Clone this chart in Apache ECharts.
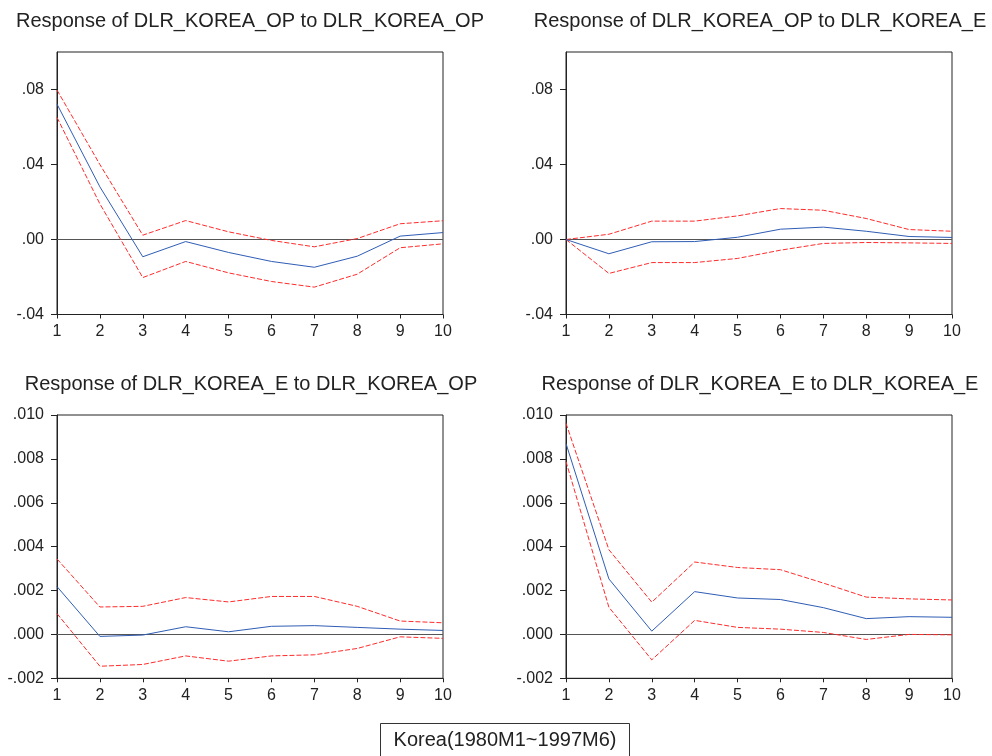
<!DOCTYPE html>
<html>
<head>
<meta charset="utf-8">
<script src="https://cdn.jsdelivr.net/npm/echarts@6/dist/echarts.min.js"></script>
<style>
html,body{margin:0;padding:0;background:#fff;}
#chart{width:992px;height:756px;}
</style>
</head>
<body>
<div id="chart"></div>
<script>
var steps = [1, 2, 3, 4, 5, 6, 7, 8, 9, 10];

var titles = [
  'Response of DLR_KOREA_OP to DLR_KOREA_OP',
  'Response of DLR_KOREA_OP to DLR_KOREA_E',
  'Response of DLR_KOREA_E to DLR_KOREA_OP',
  'Response of DLR_KOREA_E to DLR_KOREA_E'
];
var footnote = 'Korea(1980M1~1997M6)';

// OP -> OP
var opOpMid = [0.0722, 0.0281, -0.0092, -0.0011, -0.0069, -0.0117, -0.0148, -0.0089, 0.0018, 0.0037];
var opOpUp  = [0.0797, 0.0400, 0.0023, 0.0101, 0.0041, -0.0005, -0.0039, 0.0005, 0.0084, 0.0100];
var opOpLo  = [0.0651, 0.0190, -0.0203, -0.0117, -0.0178, -0.0224, -0.0254, -0.0185, -0.0044, -0.0023];

// OP <- E
var opEMid = [0, -0.0076, -0.0012, -0.0011, 0.0012, 0.0055, 0.0066, 0.0044, 0.0016, 0.0011];
var opEUp  = [0, 0.0028, 0.0098, 0.0098, 0.0126, 0.0165, 0.0156, 0.0112, 0.0053, 0.0044];
var opELo  = [0, -0.0181, -0.0123, -0.0123, -0.0101, -0.0057, -0.0021, -0.0016, -0.0018, -0.0021];

// E <- OP
var eOpMid = [0.00218, -0.00009, -0.00003, 0.00035, 0.00012, 0.00037, 0.00040, 0.00032, 0.00024, 0.00018];
var eOpUp  = [0.00344, 0.00125, 0.00128, 0.00168, 0.00148, 0.00173, 0.00173, 0.00128, 0.00061, 0.00053];
var eOpLo  = [0.00095, -0.00145, -0.00137, -0.00098, -0.00122, -0.00098, -0.00093, -0.00064, -0.00011, -0.00018];

// E <- E
var eEMid = [0.0087, 0.00253, 0.00015, 0.00195, 0.00166, 0.00159, 0.00122, 0.00072, 0.00081, 0.00078];
var eEUp  = [0.00962, 0.00386, 0.00147, 0.00330, 0.00305, 0.00295, 0.00234, 0.00170, 0.00162, 0.00157];
var eELo  = [0.00788, 0.00124, -0.00116, 0.00064, 0.00032, 0.00024, 0.00009, -0.00023, 0.00000, -0.00002];

var topAxis = { min: -0.04, max: 0.10, interval: 0.04, digits: 2 };
var botAxis = { min: -0.002, max: 0.010, interval: 0.002, digits: 3 };

var panels = [
  { mid: opOpMid, up: opOpUp, lo: opOpLo, ax: topAxis },
  { mid: opEMid, up: opEUp, lo: opELo, ax: topAxis },
  { mid: eOpMid, up: eOpUp, lo: eOpLo, ax: botAxis },
  { mid: eEMid, up: eEUp, lo: eELo, ax: botAxis }
];

var grids = [
  { left: 57, top: 52, width: 386, height: 262.5 },
  { left: 566, top: 52, width: 386, height: 262.5 },
  { left: 57, top: 415, width: 386, height: 263.3 },
  { left: 566, top: 415, width: 386, height: 263.3 }
];
var titlePos = [
  { x: 250, y: 21 },
  { x: 760, y: 21 },
  { x: 251, y: 384 },
  { x: 760, y: 384 }
];

var FONT = '"Liberation Sans", Arial, sans-serif';
var AXC = '#222';
var BLUE = '#2f5db5';
var RED = '#ff2b2b';

function pairs(arr) {
  return steps.map(function (s, i) { return [s, arr[i]]; });
}
function fmt(d) {
  return function (v) {
    var s = Number(v).toFixed(d);
    return s.replace(/^(-?)0\./, '$1.');
  };
}

var xAxes = [], yAxes = [], series = [], gridOpts = [], graphics = [];
panels.forEach(function (p, k) {
  gridOpts.push({
    left: grids[k].left, top: grids[k].top, width: grids[k].width, height: grids[k].height,
    show: true, borderColor: AXC, borderWidth: 1, backgroundColor: 'transparent'
  });
  xAxes.push({
    type: 'value', gridIndex: k, min: 1, max: 10, interval: 1,
    axisLine: { show: true, onZero: false, lineStyle: { color: AXC, width: 1 } },
    axisTick: { show: true, inside: false, length: 4, lineStyle: { color: AXC } },
    axisLabel: { color: '#222', fontSize: 16, fontFamily: FONT, margin: 9 },
    splitLine: { show: false }
  });
  yAxes.push({
    type: 'value', gridIndex: k, min: p.ax.min, max: p.ax.max, interval: p.ax.interval,
    axisLine: { show: true, lineStyle: { color: AXC, width: 1 } },
    axisTick: { show: true, inside: false, length: 6, lineStyle: { color: AXC } },
    axisLabel: { color: '#222', fontSize: 16, fontFamily: FONT, margin: 13,
      formatter: fmt(p.ax.digits), showMaxLabel: p.ax.digits === 3 },
    splitLine: { show: false }
  });
  series.push({
    type: 'line', xAxisIndex: k, yAxisIndex: k, data: [], z: 1,
    symbol: 'none', silent: true, animation: false,
    markLine: {
      silent: true, symbol: 'none', animation: false, z: 1,
      label: { show: false },
      lineStyle: { color: '#555', width: 1, type: 'solid' },
      data: [{ yAxis: 0 }]
    }
  });
  series.push({
    type: 'line', xAxisIndex: k, yAxisIndex: k, data: pairs(p.up), z: 2,
    symbol: 'none', lineStyle: { color: RED, width: 1, type: [5, 2] }, silent: true, animation: false
  });
  series.push({
    type: 'line', xAxisIndex: k, yAxisIndex: k, data: pairs(p.lo), z: 2,
    symbol: 'none', lineStyle: { color: RED, width: 1, type: [5, 2] }, silent: true, animation: false
  });
  series.push({
    type: 'line', xAxisIndex: k, yAxisIndex: k, data: pairs(p.mid), z: 3,
    symbol: 'none', lineStyle: { color: BLUE, width: 1 }, silent: true, animation: false
  });
  graphics.push({
    type: 'text', x: titlePos[k].x, y: titlePos[k].y,
    style: { text: titles[k], fill: '#222', font: '20px ' + FONT, align: 'center', verticalAlign: 'middle' }
  });
});

graphics.push({
  type: 'rect', shape: { x: 380.5, y: 723.5, width: 249, height: 40 },
  style: { fill: '#fff', stroke: '#333', lineWidth: 1 }
});
graphics.push({
  type: 'text', x: 505, y: 740,
  style: { text: footnote, fill: '#222', font: '20px ' + FONT, align: 'center', verticalAlign: 'middle' }
});

var chart = echarts.init(document.getElementById('chart'), null, { renderer: 'canvas' });
chart.setOption({
  animation: false,
  backgroundColor: '#fff',
  grid: gridOpts,
  xAxis: xAxes,
  yAxis: yAxes,
  series: series,
  graphic: graphics
});
</script>
</body>
</html>
